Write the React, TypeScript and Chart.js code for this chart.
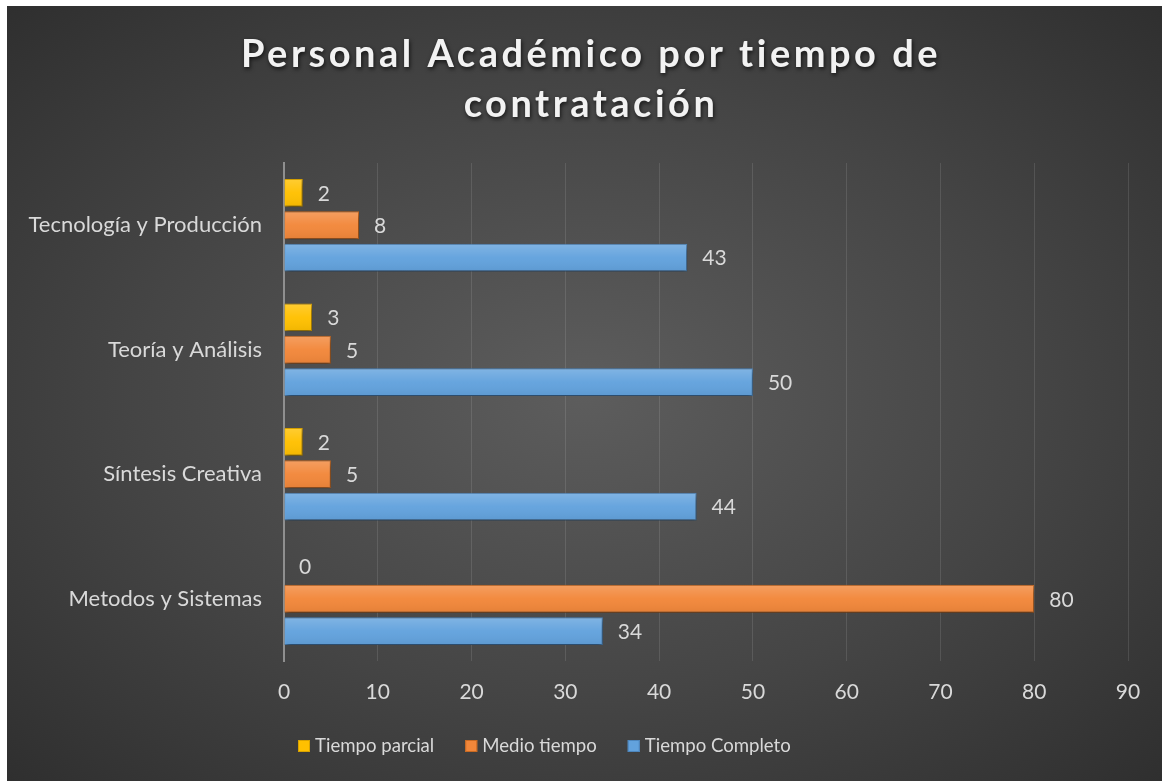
import React, { useEffect, useRef } from "react";
import { Chart, registerables } from "chart.js";

Chart.register(...registerables);

const categories = ["Tecnología y Producción", "Teoría y Análisis", "Síntesis Creativa", "Metodos y Sistemas"];
const tiempoParcial = [2, 3, 2, 0];
const medioTiempo = [8, 5, 5, 80];
const tiempoCompleto = [43, 50, 44, 34];
const seriesNames = ["Tiempo parcial", "Medio tiempo", "Tiempo Completo"];
const seriesColors = ["#FFC000", "#F2873A", "#62A2DD"];
const seriesBorders = ["#d9a300", "#c96a22", "#4d86bd"];
const titleLines = ["Personal Académico por tiempo de", "contratación"];
const xTicks = { min: 0, max: 90, step: 10 };

const FONT = "Lato, 'Open Sans', sans-serif";
const TEXT = "#d9d9d9";

const shadowPlugin = {
  id: "barShadow",
  beforeDatasetsDraw(chart: any) {
    const ctx = chart.ctx;
    ctx.save();
    ctx.shadowColor = "rgba(0,0,0,0.55)";
    ctx.shadowBlur = 5;
    ctx.shadowOffsetX = 1;
    ctx.shadowOffsetY = 3;
  },
  afterDatasetsDraw(chart: any) {
    chart.ctx.restore();
  },
};

const glossPlugin = {
  id: "barGloss",
  afterDatasetsDraw(chart: any) {
    const ctx = chart.ctx;
    ctx.save();
    chart.data.datasets.forEach((_ds: any, i: number) => {
      chart.getDatasetMeta(i).data.forEach((bar: any) => {
        const p = bar.getProps(["x", "y", "base", "height"], true);
        const w = p.x - p.base;
        if (w <= 0) return;
        const top = p.y - p.height / 2;
        const g = ctx.createLinearGradient(0, top, 0, top + p.height);
        g.addColorStop(0, "rgba(255,255,255,0.2)");
        g.addColorStop(0.5, "rgba(255,255,255,0.03)");
        g.addColorStop(1, "rgba(0,0,0,0.06)");
        ctx.fillStyle = g;
        ctx.fillRect(p.base + 1, top + 1, w - 2, p.height - 2);
      });
    });
    ctx.restore();
  },
};

const labelPlugin = {
  id: "valueLabels",
  afterDatasetsDraw(chart: any) {
    const ctx = chart.ctx;
    ctx.save();
    ctx.font = `21px ${FONT}`;
    ctx.fillStyle = TEXT;
    ctx.textAlign = "left";
    ctx.textBaseline = "middle";
    chart.data.datasets.forEach((ds: any, i: number) => {
      const meta = chart.getDatasetMeta(i);
      meta.data.forEach((bar: any, j: number) => {
        ctx.fillText(String(ds.data[j]), bar.x + 15, bar.y + 1);
      });
    });
    ctx.restore();
  },
};

const titlePlugin = {
  id: "spacedTitle",
  afterDraw(chart: any) {
    const ctx = chart.ctx;
    ctx.save();
    ctx.font = `bold 38px ${FONT}`;
    (ctx as any).letterSpacing = "3.5px";
    ctx.fillStyle = "#f2f2f2";
    ctx.textAlign = "center";
    ctx.textBaseline = "middle";
    ctx.shadowColor = "rgba(0,0,0,0.7)";
    ctx.shadowBlur = 4;
    ctx.shadowOffsetX = 1;
    ctx.shadowOffsetY = 2;
    titleLines.forEach((t, i) => ctx.fillText(t, 584, 49 + i * 50));
    ctx.restore();
  },
};

const legendPlugin = {
  id: "customLegend",
  afterDraw(chart: any) {
    const ctx = chart.ctx;
    ctx.save();
    ctx.font = `18.6px ${FONT}`;
    ctx.textAlign = "left";
    ctx.textBaseline = "middle";
    let x = 291;
    const y = 740;
    seriesNames.forEach((name, i) => {
      ctx.fillStyle = seriesColors[i];
      ctx.fillRect(x, y - 6, 12, 12);
      ctx.strokeStyle = seriesBorders[i];
      ctx.lineWidth = 1;
      ctx.strokeRect(x + 0.5, y - 5.5, 11, 11);
      ctx.fillStyle = TEXT;
      ctx.fillText(name, x + 17, y);
      x += 17 + ctx.measureText(name).width + 31;
    });
    ctx.restore();
  },
};

export default function App() {
  const ref = useRef<HTMLCanvasElement>(null);
  useEffect(() => {
    if (!ref.current) return;
    const chart = new Chart(ref.current, {
      type: "bar",
      data: {
        labels: categories,
        datasets: [
          { label: seriesNames[0], data: tiempoParcial, backgroundColor: seriesColors[0], borderColor: seriesBorders[0], borderWidth: 1 },
          { label: seriesNames[1], data: medioTiempo, backgroundColor: seriesColors[1], borderColor: seriesBorders[1], borderWidth: 1 },
          { label: seriesNames[2], data: tiempoCompleto, backgroundColor: seriesColors[2], borderColor: seriesBorders[2], borderWidth: 1 },
        ],
      },
      options: {
        indexAxis: "y",
        animation: false,
        responsive: true,
        maintainAspectRatio: false,
        datasets: { bar: { categoryPercentage: 0.78, barPercentage: 0.86 } },
        layout: { padding: { top: 157, left: 20, right: 34, bottom: 60 } },
        scales: {
          x: {
            min: xTicks.min,
            max: xTicks.max,
            ticks: { stepSize: xTicks.step, color: TEXT, font: { family: FONT, size: 21 }, padding: 19 },
            grid: { color: "rgba(255,255,255,0.11)", drawTicks: false },
            border: { display: false },
            afterFit(scale: any) { scale.height = 60; },
          },
          y: {
            ticks: { color: TEXT, font: { family: FONT, size: 22 }, padding: 22 },
            grid: { display: false, drawTicks: false },
            border: { color: "#8f8f8f", width: 2 },
            afterFit(scale: any) { scale.width = 257; },
          },
        },
        plugins: {
          legend: { display: false },
          tooltip: { enabled: false },
          title: { display: false },
        },
      },
      plugins: [shadowPlugin, glossPlugin, labelPlugin, titlePlugin, legendPlugin],
    });
    return () => chart.destroy();
  }, []);
  return (
    <div
      style={{
        position: "fixed",
        left: 7,
        top: 6,
        width: 1155,
        height: 775,
        background: "radial-gradient(ellipse at 50% 50%, #5d5d5d 0%, #454545 55%, #2f2f2f 100%)",
      }}
    >
      <canvas ref={ref} />
    </div>
  );
}
